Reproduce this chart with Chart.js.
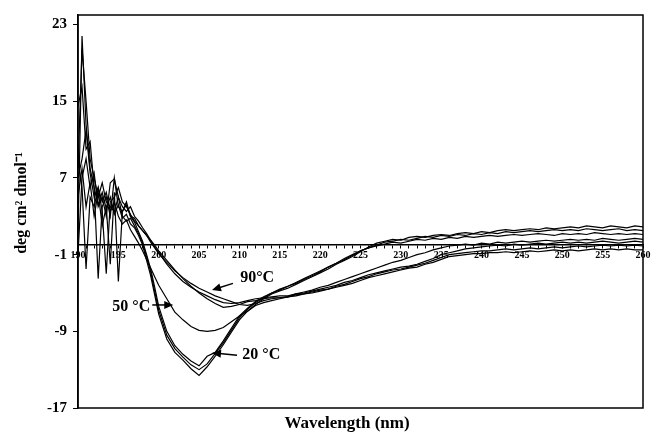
<!DOCTYPE html>
<html>
<script src="https://cdn.jsdelivr.net/npm/chart.js@4.4.0/dist/chart.umd.min.js"></script>
<body style="margin:0;background:#fff">

<div style="width:654px;height:441px"><canvas id="cdChart"></canvas></div>

<script>

    // wavelength in nm: half steps where the spectra are noisy, then 1 nm steps
    let wavelength = [190, 190.5, 191, 191.5, 192, 192.5, 193, 193.5, 194, 194.5, 195, 195.5, 196, 196.5, 197, 197.5, 198, 198.5, 199, 199.5, 200,
        201, 202, 203, 204, 205, 206, 207, 208, 209, 210,
        211, 212, 213, 214, 215, 216, 217, 218, 219, 220,
        221, 222, 223, 224, 225, 226, 227, 228, 229, 230,
        231, 232, 233, 234, 235, 236, 237, 238, 239, 240,
        241, 242, 243, 244, 245, 246, 247, 248, 249, 250,
        251, 252, 253, 254, 255, 256, 257, 258, 259, 260];

    // ellipticity (deg cm2 dmol-1), one list per temperature
    let t20 = [1, 21.8, 12.5, 8, 6, 4.2, 5.5, 3.8, 5, 3.2, 4.2, 2.8, 3.2, 2.2, 1.8, 1.0, 0, -1.6, -3.2, -5.2, -7.2,
        -9.8, -11.2, -12.0, -12.9, -13.6, -12.7, -11.6, -10.4, -9.1, -7.8,
        -6.9, -6.2, -5.6, -5.1, -4.8, -4.5, -4.1, -3.7, -3.3, -2.9,
        -2.5, -2.0, -1.6, -1.2, -0.7, -0.2, 0.2, 0.4, 0.6, 0.5,
        0.8, 0.9, 0.8, 1.0, 1.1, 1.0, 1.2, 1.3, 1.2, 1.4,
        1.3, 1.5, 1.6, 1.5, 1.6, 1.7, 1.6, 1.8, 1.7, 1.8,
        1.9, 1.8, 2.0, 1.9, 1.8, 2.0, 1.9, 1.8, 2.0, 1.9];

    let t30 = [8, 20.5, 15, 9, 7, 5, 6.5, 4.5, 4, 3.5, 5, 3, 2.5, 2.8, 2, 1.2, 0.2, -1.2, -2.8, -4.8, -6.8,
        -9.4, -10.8, -11.7, -12.5, -13.0, -12.4, -11.3, -10.2, -8.9, -7.6,
        -6.7, -6.0, -5.5, -5.0, -4.7, -4.3, -4.0, -3.6, -3.2, -2.8,
        -2.3, -1.9, -1.5, -1.1, -0.6, -0.3, 0.0, 0.3, 0.4, 0.6,
        0.5, 0.7, 0.9, 0.8, 1.0, 0.9, 1.1, 1.0, 1.2, 1.1,
        1.3, 1.2, 1.4, 1.3, 1.4, 1.5, 1.4, 1.5, 1.6, 1.5,
        1.6, 1.5, 1.7, 1.6, 1.5, 1.6, 1.7, 1.5, 1.6, 1.5];

    let t40 = [14.5, 16.5, 10, 10.8, 6, -3.5, 4, 5, 3, 7, 4, 3.5, 4.5, 3, 2.4, 1.4, 0.4, -1, -2.5, -4.4, -6.4,
        -9.0, -10.5, -11.4, -12.1, -12.6, -11.6, -11.2, -10.0, -8.7, -7.4,
        -6.6, -5.9, -5.4, -5.0, -4.6, -4.3, -3.9, -3.5, -3.1, -2.7,
        -2.3, -1.9, -1.4, -1.0, -0.6, -0.3, -0.1, 0.1, 0.3, 0.2,
        0.4, 0.6, 0.5, 0.7, 0.6, 0.8, 0.7, 0.9, 0.8, 0.9,
        1.0, 0.9, 1.0, 1.1, 1.0, 1.1, 1.2, 1.1, 1.0, 1.2,
        1.1, 1.2, 1.1, 1.3, 1.2, 1.1, 1.2, 1.1, 1.2, 1.1];

    let t50 = [7, 9, 12, 7.5, 5, 6, 4.5, 5.5, 3.5, 4.5, 3, 2.2, 2.6, 1.6, 0.9, 0.2, -0.6, -1.5, -2.4, -3.3, -4.2,
        -5.6, -7.0, -7.8, -8.5, -8.9, -9.0, -8.9, -8.6, -8.0, -7.4,
        -6.9, -6.3, -6.0, -5.8, -5.6, -5.4, -5.1, -4.9, -4.7, -4.4,
        -4.2, -3.9, -3.6, -3.3, -3.0, -2.7, -2.4, -2.1, -1.8, -1.6,
        -1.3, -1.0, -0.8, -0.5, -0.3, -0.1, 0.0, 0.1, 0.0, 0.2,
        0.1, 0.3, 0.2, 0.3, 0.4, 0.3, 0.4, 0.5, 0.4, 0.5,
        0.6, 0.5, 0.6, 0.5, 0.7, 0.6, 0.5, 0.6, 0.7, 0.6];

    let t70 = [-1, 7, 9, 6, 7.5, 4, 5, 3, 6.5, 6.9, 5, 4, 3.5, 4, 3, 2.5, 1.8, 1.2, 0.5, -0.2, -0.8,
        -2.0, -3.0, -3.8, -4.4, -4.9, -5.3, -5.7, -6.0, -6.1, -6.0,
        -5.8, -5.6, -5.5, -5.4, -5.3, -5.3, -5.1, -5.0, -4.8, -4.6,
        -4.4, -4.2, -3.9, -3.7, -3.4, -3.1, -2.9, -2.7, -2.5, -2.3,
        -2.2, -2.0, -1.7, -1.4, -1.0, -0.8, -0.6, -0.4, -0.3, -0.2,
        -0.1, 0.0, -0.1, 0.1, 0.0, 0.1, 0.2, 0.1, 0.2, 0.3,
        0.2, 0.3, 0.2, 0.3, 0.4, 0.3, 0.2, 0.3, 0.4, 0.3];

    let t80 = [5, 8, 4, 6.5, 3, 5.5, 2, 4, -2, 5.5, -3.8, 3.5, 4.2, 3, 2.8, 2, 1.5, 1, 0.5, 0, -0.6,
        -1.6, -2.6, -3.5, -4.3, -5.0, -5.6, -6.1, -6.5, -6.4, -6.2,
        -5.9, -5.8, -5.6, -5.5, -5.5, -5.4, -5.2, -5.1, -4.9, -4.7,
        -4.6, -4.3, -4.1, -3.8, -3.5, -3.3, -3.0, -2.8, -2.6, -2.5,
        -2.3, -2.1, -1.9, -1.6, -1.3, -1.0, -0.9, -0.8, -0.7, -0.6,
        -0.6, -0.5, -0.4, -0.5, -0.4, -0.3, -0.4, -0.3, -0.2, -0.3,
        -0.2, -0.1, -0.2, -0.1, 0.0, -0.1, 0.0, -0.1, 0.0, -0.1];

    let t90 = [9, 6, -2.5, 5, 4, 6, 3.5, -3, 4.5, 5, 6, 4.5, 4, 3.2, 2.5, 2, 1.5, 1, 0.3, -0.3, -0.9,
        -1.8, -2.7, -3.4, -4.0, -4.5, -4.9, -5.3, -5.6, -5.9, -6.2,
        -6.3, -6.1, -5.8, -5.6, -5.5, -5.4, -5.3, -5.1, -5.0, -4.8,
        -4.6, -4.4, -4.2, -4.0, -3.7, -3.4, -3.2, -3.0, -2.8, -2.6,
        -2.4, -2.3, -2.0, -1.8, -1.5, -1.2, -1.1, -1.0, -0.9, -0.9,
        -0.8, -0.8, -0.7, -0.8, -0.7, -0.6, -0.7, -0.6, -0.5, -0.6,
        -0.5, -0.6, -0.5, -0.4, -0.5, -0.4, -0.5, -0.4, -0.5, -0.5];

    let seriesNames = ["20 °C", "30 °C", "40 °C", "50 °C", "70 °C", "80 °C", "90 °C"];
    let seriesValues = [t20, t30, t40, t50, t70, t80, t90];

    let yTickValues = [-17, -9, -1, 7, 15, 23];

    let xTitle = "Wavelength (nm)";
    let yTitle = "deg cm² dmol⁻¹";

    let serif = "'Liberation Serif', 'Times New Roman', serif";

    // temperature labels with their arrows, in data units
    let notes = [
        {text: "90°C", x: 212.2, y: -3.4, from: [209.2, -4.0], to: [206.6, -4.7]},
        {text: "50 °C", x: 196.6, y: -6.5, from: [199.2, -6.25], to: [201.8, -6.25]},
        {text: "20 °C", x: 212.7, y: -11.5, from: [209.7, -11.5], to: [206.6, -11.25]}
    ];

    // box round the plot area, axis titles, labels and arrows
    const framePlugin = {
        id: "frame",
        afterDraw(chart) {
            const ctx = chart.ctx;
            const area = chart.chartArea;
            const xs = chart.scales.x;
            const ys = chart.scales.y;
            ctx.save();
            ctx.strokeStyle = "#000";
            ctx.lineWidth = 1.5;
            ctx.strokeRect(area.left, area.top, area.right - area.left, area.bottom - area.top);

            ctx.fillStyle = "#000";
            ctx.textAlign = "center";
            ctx.textBaseline = "middle";

            // axis titles
            ctx.font = "bold 17px " + serif;
            ctx.fillText(xTitle, 347, 424);
            ctx.save();
            ctx.translate(22, 203);
            ctx.rotate(-Math.PI / 2);
            ctx.font = "bold 16px " + serif;
            ctx.fillText(yTitle, 0, 0);
            ctx.restore();

            ctx.font = "bold 16px " + serif;
            notes.forEach(n => {
                ctx.fillText(n.text, xs.getPixelForValue(n.x), ys.getPixelForValue(n.y));
                const x1 = xs.getPixelForValue(n.from[0]), y1 = ys.getPixelForValue(n.from[1]);
                const x2 = xs.getPixelForValue(n.to[0]), y2 = ys.getPixelForValue(n.to[1]);
                const a = Math.atan2(y2 - y1, x2 - x1);
                ctx.lineWidth = 1.5;
                ctx.beginPath();
                ctx.moveTo(x1, y1);
                ctx.lineTo(x2 - 5 * Math.cos(a), y2 - 5 * Math.sin(a));
                ctx.stroke();
                ctx.beginPath();
                ctx.moveTo(x2, y2);
                ctx.lineTo(x2 - 9 * Math.cos(a) + 4 * Math.sin(a), y2 - 9 * Math.sin(a) - 4 * Math.cos(a));
                ctx.lineTo(x2 - 9 * Math.cos(a) - 4 * Math.sin(a), y2 - 9 * Math.sin(a) + 4 * Math.cos(a));
                ctx.closePath();
                ctx.fill();
            });
            ctx.restore();
        }
    };

    let datasets = seriesValues.map((values, k) => ({
        label: seriesNames[k],
        data: wavelength.map((w, i) => ({x: w, y: values[i]})),
        borderColor: "#000",
        borderWidth: 1.2,
        pointRadius: 0,
        tension: 0,
        fill: false
    }));

    new Chart("cdChart", {
        type: "line",
        data: {datasets: datasets},
        plugins: [framePlugin],
        options: {
            responsive: true,
            maintainAspectRatio: false,
            animation: false,
            layout: {padding: {left: 0, right: 11, top: 14, bottom: 33}},
            plugins: {
                legend: {display: false},
                tooltip: {enabled: false}
            },
            scales: {
                x: {
                    type: "linear",
                    position: {y: 0},
                    min: 190,
                    max: 260,
                    grid: {drawOnChartArea: false, color: "#000", tickLength: 3},
                    border: {color: "#000", width: 1.5},
                    ticks: {
                        stepSize: 1,
                        autoSkip: false,
                        maxRotation: 0,
                        padding: 1,
                        color: "#000",
                        font: {family: serif, size: 10, weight: "bold"},
                        callback: v => (v % 5 === 0 ? String(v) : "")
                    }
                },
                y: {
                    min: -17,
                    max: 24,
                    afterBuildTicks: scale => {
                        scale.ticks = yTickValues.map(v => ({value: v}));
                    },
                    afterFit: scale => {
                        scale.width = 78;
                    },
                    grid: {drawOnChartArea: false, color: "#000", tickLength: 5},
                    border: {color: "#000", width: 1.5},
                    ticks: {
                        padding: 6,
                        color: "#000",
                        font: {family: serif, size: 15, weight: "bold"}
                    }
                }
            }
        }
    });

</script>
</body>
</html>
